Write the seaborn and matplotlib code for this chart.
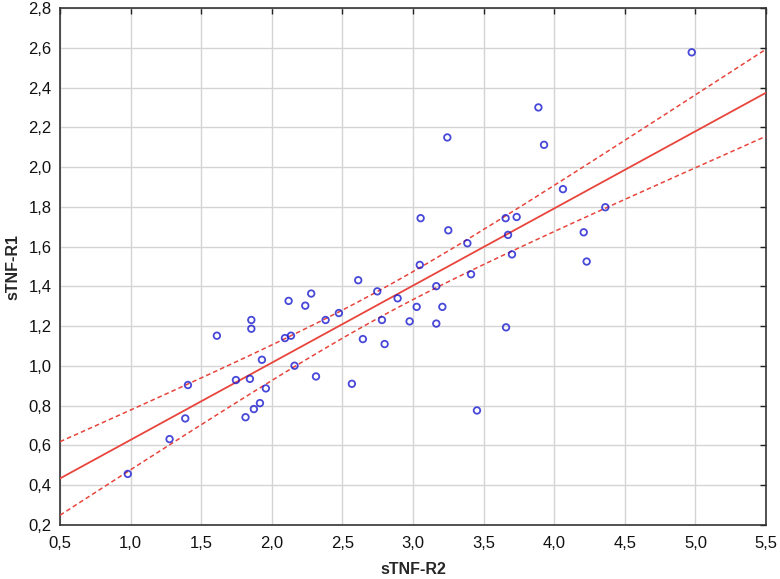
import numpy as np
import pandas as pd
import seaborn as sns
import matplotlib
matplotlib.use("Agg")
import matplotlib.pyplot as plt
from matplotlib.ticker import FuncFormatter

# Data
stnf_r2 = [0.98, 1.276, 1.387, 1.406, 1.611, 1.746, 1.845, 1.855, 1.855, 1.814,
           1.873, 1.916, 1.930, 1.958, 2.093, 2.136, 2.119, 2.161, 2.237, 2.279,
           2.313, 2.381, 2.475, 2.567, 2.612, 2.645, 2.747, 2.780, 2.799, 2.891,
           2.976, 3.026, 3.048, 3.411, 3.165, 3.208, 3.165, 3.659, 3.453, 4.230,
           4.974, 3.888, 3.243, 3.928, 4.062, 4.362, 3.054, 3.656, 3.734, 3.250,
           3.385, 3.673, 4.209, 3.701]
stnf_r1 = [0.457, 0.632, 0.736, 0.904, 1.152, 0.929, 0.935, 1.231, 1.187, 0.742,
           0.783, 0.813, 1.031, 0.887, 1.140, 1.152, 1.327, 1.001, 1.303, 1.364,
           0.947, 1.231, 1.266, 0.910, 1.431, 1.135, 1.375, 1.231, 1.110, 1.340,
           1.224, 1.297, 1.508, 1.461, 1.401, 1.297, 1.213, 1.194, 0.776, 1.525,
           2.577, 2.300, 2.149, 2.112, 1.889, 1.798, 1.743, 1.743, 1.749, 1.682,
           1.617, 1.659, 1.672, 1.561]
x_ticks = [0.5, 1.0, 1.5, 2.0, 2.5, 3.0, 3.5, 4.0, 4.5, 5.0, 5.5]
y_ticks = [0.2, 0.4, 0.6, 0.8, 1.0, 1.2, 1.4, 1.6, 1.8, 2.0, 2.2, 2.4, 2.6, 2.8]

df = pd.DataFrame({"sTNF-R2": stnf_r2, "sTNF-R1": stnf_r1})

sns.set_style("white")
plt.rcParams["font.family"] = ["Liberation Sans", "DejaVu Sans"]

fig = plt.figure(figsize=(7.8, 5.79), dpi=100)
ax = fig.add_axes([60 / 780, 54 / 579, 706 / 780, 517 / 579])
ax.set_xlim(0.5, 5.5)
ax.set_ylim(0.2, 2.8)

line_red = "#e8453c"
sns.regplot(data=df, x="sTNF-R2", y="sTNF-R1", ax=ax, ci=None, truncate=False,
            scatter_kws=dict(facecolors="none", edgecolors="#1a1ad0", s=22,
                             linewidths=1.3, zorder=4),
            line_kws=dict(color=line_red, lw=1.3, zorder=3))

# 95% confidence bands for the regression line (dashed)
x = np.asarray(stnf_r2)
y = np.asarray(stnf_r1)
n = len(x)
b, a = np.polyfit(x, y, 1)
resid = y - (a + b * x)
s = np.sqrt(np.sum(resid ** 2) / (n - 2))
sxx = np.sum((x - x.mean()) ** 2)
t = 2.0066
xs = np.linspace(0.5, 5.5, 200)
yhat = a + b * xs
hw = t * s * np.sqrt(1 / n + (xs - x.mean()) ** 2 / sxx)
ax.plot(xs, yhat + hw, color=line_red, lw=1.1, ls=(0, (3, 2)), zorder=3)
ax.plot(xs, yhat - hw, color=line_red, lw=1.1, ls=(0, (3, 2)), zorder=3)

ax.set_xticks(x_ticks)
ax.set_yticks(y_ticks)
fmt = FuncFormatter(lambda v, p: f"{v:.1f}".replace(".", ","))
ax.xaxis.set_major_formatter(fmt)
ax.yaxis.set_major_formatter(fmt)
ax.grid(True, color="#d4d4d4", lw=1.0)
ax.set_axisbelow(True)
ax.tick_params(direction="in", length=4, width=1, top=True, right=True,
               labelsize=12, colors="#222222", labelcolor="#111111")
ax.tick_params(axis="x", pad=8)
ax.tick_params(axis="y", pad=6)
for sp in ax.spines.values():
    sp.set_color("#333333")
    sp.set_linewidth(1.2)

ax.set_xlabel("sTNF-R2", fontsize=11.5, fontweight="bold", labelpad=8)
ax.set_ylabel("sTNF-R1", fontsize=11.5, fontweight="bold", labelpad=6)

fig.savefig("out.png", dpi=100)
